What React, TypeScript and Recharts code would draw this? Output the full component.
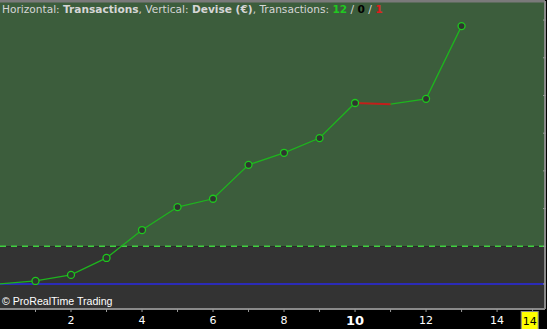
import React from 'react';
import { ComposedChart, Line, XAxis, YAxis, ReferenceArea, ReferenceLine } from 'recharts';

// ---- data ----
const tradeNumbers = [0, 1, 2, 3, 4, 5, 6, 7, 8, 9, 10, 11, 12, 13];
const equity = [0, 40, 120, 345, 715, 1020, 1130, 1580, 1740, 1935, 2400, 2385, 2455, 3420];
const losingTrades = [11];
const thresholdLevel = 500;
const xTicks = [1, 2, 3, 4, 5, 6, 7, 8, 9, 10, 11, 12, 13, 14, 15];
const rightTicks = [0, 500, 1000, 1500, 2000, 2500, 3000, 3500];
const cursorPos = 14.92;
const cursorLabel = '14';
const winsCount = 12;
const neutralCount = 0;
const lossCount = 1;

const W = 547;
const H = 329;
const X_DOMAIN: [number, number] = [0, 15.35];
const Y_DOMAIN: [number, number] = [-332, 3753];

const data = tradeNumbers.map((t, i) => {
  const isLoss = losingTrades.includes(t);
  const nextLoss = losingTrades.includes(tradeNumbers[i + 1]);
  return {
    t,
    eq: equity[i],
    loss: isLoss || nextLoss ? equity[i] : null,
  };
});

const GREEN_BG = '#3c5d3c';
const DARK_BG = '#333333';
const LINE_GREEN = '#1eb41e';

const renderDot = (p: any) => {
  const { cx, cy, index } = p;
  const t = tradeNumbers[index];
  if (t === 0 || losingTrades.includes(t)) return <g key={`d${index}`} />;
  return <circle key={`d${index}`} cx={cx} cy={cy} r={3.5} fill="#2f352f" stroke="#1ec81e" strokeWidth={1.3} />;
};

const XTick = (p: any) => {
  const { x, y, payload } = p;
  const v = payload.value;
  if (v === cursorPos) {
    return (
      <g>
        <rect x={x - 8.5} y={y + 2.5} width={17} height={20} fill="#ffff00" stroke="#888" strokeWidth={1} />
        <text x={x} y={y + 16} textAnchor="middle" fontSize={11} fontFamily="DejaVu Sans, sans-serif" fill="#000">{cursorLabel}</text>
      </g>
    );
  }
  const even = v % 2 === 0;
  const big = v === 10;
  return (
    <g>
      <line x1={x} x2={x} y1={y} y2={y + 3} stroke="#999" strokeWidth={1} />
      {even && (
        <text
          x={x}
          y={big ? y + 16 : y + 15}
          textAnchor="middle"
          fontSize={big ? 13 : 11}
          fontWeight={big ? 'bold' : 'normal'}
          fontFamily="DejaVu Sans, sans-serif"
          fill="#ffffff"
        >
          {v}
        </text>
      )}
    </g>
  );
};

const YTick = (p: any) => {
  const { x, y } = p;
  return <line x1={x - 2} x2={x + 1} y1={y} y2={y} stroke="#999" strokeWidth={1} />;
};

export default function App() {
  return (
    <div style={{ position: 'absolute', left: 0, top: 0, width: W, height: H, background: '#000', overflow: 'hidden' }}>
      <ComposedChart width={W} height={H} data={data} margin={{ top: 1, right: 0, bottom: 0, left: 0 }}>
        <XAxis
          dataKey="t"
          type="number"
          domain={X_DOMAIN}
          ticks={[...xTicks, cursorPos]}
          interval={0}
          allowDataOverflow
          height={20}
          tickSize={0}
          tickMargin={0}
          tickLine={false}
          axisLine={{ stroke: '#8a8a8a', strokeWidth: 2 }}
          tick={<XTick />}
        />
        <YAxis
          orientation="right"
          type="number"
          domain={Y_DOMAIN}
          allowDataOverflow
          ticks={rightTicks}
          width={2}
          tickSize={0}
          tickMargin={0}
          tickLine={false}
          axisLine={{ stroke: '#8a8a8a', strokeWidth: 2 }}
          tick={<YTick />}
        />
        <ReferenceArea y1={thresholdLevel} y2={Y_DOMAIN[1]} fill={GREEN_BG} fillOpacity={1} stroke="none" ifOverflow="hidden" />
        <ReferenceArea y1={Y_DOMAIN[0]} y2={thresholdLevel} fill={DARK_BG} fillOpacity={1} stroke="none" ifOverflow="hidden" />
        <ReferenceLine y={Y_DOMAIN[1]} stroke="#7a7a7a" strokeWidth={3} ifOverflow="extendDomain" />
        <ReferenceLine y={thresholdLevel} stroke="#3fd03f" strokeWidth={1.3} strokeDasharray="6 5" />
        <ReferenceLine y={0} stroke="#2a2ae6" strokeWidth={1.6} />
        <Line
          dataKey="eq"
          type="linear"
          stroke={LINE_GREEN}
          strokeWidth={1.3}
          dot={renderDot}
          activeDot={false}
          isAnimationActive={false}
        />
        <Line
          dataKey="loss"
          type="linear"
          stroke="#c41c1c"
          strokeWidth={2}
          dot={false}
          activeDot={false}
          connectNulls={false}
          isAnimationActive={false}
        />
      </ComposedChart>
      <div
        style={{
          position: 'absolute',
          left: 2,
          top: 2,
          fontFamily: 'DejaVu Sans, sans-serif',
          fontSize: 10.6,
          color: '#d6d6d6',
          whiteSpace: 'nowrap',
          lineHeight: '14px',
        }}
      >
        Horizontal: <b>Transactions</b>, Vertical: <b>Devise (€)</b>, Transactions:{' '}
        <b style={{ color: '#20c820' }}>{winsCount}</b> / <b style={{ color: '#000' }}>{neutralCount}</b> /{' '}
        <b style={{ color: '#e01e1e' }}>{lossCount}</b>
      </div>
      <div
        style={{
          position: 'absolute',
          left: 2,
          top: 294,
          fontFamily: 'Liberation Sans, Arial, sans-serif',
          fontSize: 10.6,
          color: '#ffffff',
          whiteSpace: 'nowrap',
          lineHeight: '14px',
        }}
      >
        © ProRealTime Trading
      </div>
    </div>
  );
}
